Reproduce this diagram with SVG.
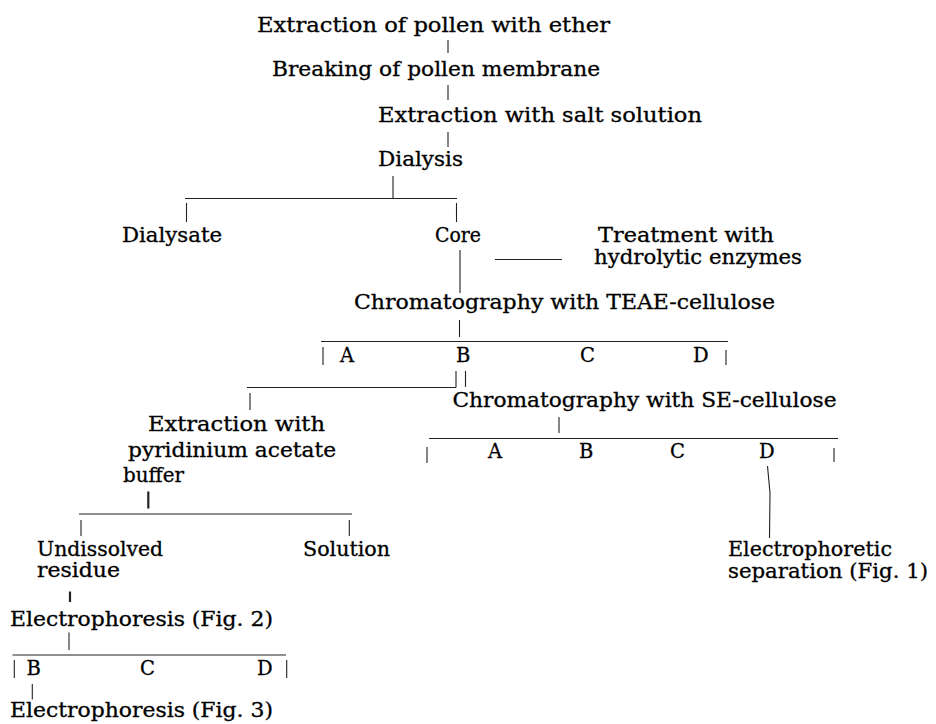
<svg xmlns="http://www.w3.org/2000/svg" width="936" height="724" viewBox="0 0 936 724">
<style>
.t{font-family:"DejaVu Serif","Liberation Serif",serif;font-size:19.5px;fill:#000;stroke:#000;stroke-width:0.3}
.c line,.c polyline{stroke:#222;stroke-width:1.1;fill:none}
.c .k{stroke-width:2.2}
</style>
<rect width="936" height="724" fill="#ffffff"/>
<g id="n1"><text class="t" x="257" y="32" textLength="353" lengthAdjust="spacingAndGlyphs">Extraction of pollen with ether</text></g>
<g id="n2"><text class="t" x="272" y="76" textLength="328" lengthAdjust="spacingAndGlyphs">Breaking of pollen membrane</text></g>
<g id="n3"><text class="t" x="378" y="121.5" textLength="324" lengthAdjust="spacingAndGlyphs">Extraction with salt solution</text></g>
<g id="n4"><text class="t" x="378" y="166" textLength="85" lengthAdjust="spacingAndGlyphs">Dialysis</text></g>
<g id="n5"><text class="t" x="122" y="242" textLength="100" lengthAdjust="spacingAndGlyphs">Dialysate</text></g>
<g id="n6"><text class="t" x="435" y="242" textLength="46" lengthAdjust="spacingAndGlyphs">Core</text></g>
<g id="n7"><text class="t" x="598" y="242" textLength="176" lengthAdjust="spacingAndGlyphs">Treatment with</text><text class="t" x="594" y="264" textLength="208" lengthAdjust="spacingAndGlyphs">hydrolytic enzymes</text></g>
<g id="n8"><text class="t" x="354" y="309" textLength="421" lengthAdjust="spacingAndGlyphs">Chromatography with TEAE-cellulose</text></g>
<g id="n9"><text class="t" x="340" y="362">A</text><text class="t" x="456" y="362">B</text><text class="t" x="580" y="362">C</text><text class="t" x="693" y="362">D</text></g>
<g id="n10"><text class="t" x="452.5" y="406.5" textLength="384" lengthAdjust="spacingAndGlyphs">Chromatography with SE-cellulose</text></g>
<g id="n11"><text class="t" x="488" y="458">A</text><text class="t" x="579" y="458">B</text><text class="t" x="670" y="458">C</text><text class="t" x="759" y="458">D</text></g>
<g id="n12"><text class="t" x="728" y="556" textLength="164" lengthAdjust="spacingAndGlyphs">Electrophoretic</text><text class="t" x="728" y="578" textLength="200" lengthAdjust="spacingAndGlyphs">separation (Fig. 1)</text></g>
<g id="n13"><text class="t" x="148" y="430.5" textLength="177" lengthAdjust="spacingAndGlyphs">Extraction with</text><text class="t" x="128" y="457" textLength="208" lengthAdjust="spacingAndGlyphs">pyridinium acetate</text><text class="t" x="123" y="481.5" textLength="61" lengthAdjust="spacingAndGlyphs">buffer</text></g>
<g id="n14"><text class="t" x="37" y="555.5" textLength="126" lengthAdjust="spacingAndGlyphs">Undissolved</text><text class="t" x="37" y="577" textLength="83" lengthAdjust="spacingAndGlyphs">residue</text></g>
<g id="n15"><text class="t" x="303" y="555.5" textLength="87" lengthAdjust="spacingAndGlyphs">Solution</text></g>
<g id="n16"><text class="t" x="10" y="625.5" textLength="263" lengthAdjust="spacingAndGlyphs">Electrophoresis (Fig. 2)</text></g>
<g id="n17"><text class="t" x="26.5" y="675">B</text><text class="t" x="140" y="675">C</text><text class="t" x="257" y="675">D</text></g>
<g id="n18"><text class="t" x="10" y="717" textLength="263" lengthAdjust="spacingAndGlyphs">Electrophoresis (Fig. 3)</text></g>
<g id="connectors" class="c">
<line x1="448" y1="40" x2="448" y2="53"/>
<line x1="448" y1="85" x2="448" y2="100"/>
<line x1="448" y1="132" x2="448" y2="147"/>
<line x1="393" y1="176" x2="393" y2="198.5"/>
<line x1="185" y1="198.5" x2="457" y2="198.5"/>
<line x1="186.5" y1="203" x2="186.5" y2="222"/>
<line x1="456.5" y1="203" x2="456.5" y2="222"/>
<line x1="460" y1="250" x2="460" y2="293"/>
<line x1="495" y1="259.5" x2="562" y2="259.5"/>
<line x1="459.5" y1="320" x2="459.5" y2="337"/>
<line x1="321" y1="341.5" x2="728" y2="341.5"/>
<line x1="323" y1="347" x2="323" y2="365"/>
<line x1="726" y1="350" x2="726" y2="365"/>
<line x1="456" y1="371" x2="456" y2="387.5"/>
<line x1="465.5" y1="371" x2="465.5" y2="387"/>
<line x1="247" y1="387.5" x2="456" y2="387.5"/>
<line x1="250" y1="393" x2="250" y2="410"/>
<line x1="559" y1="417" x2="559" y2="433"/>
<line x1="429" y1="438.5" x2="838" y2="438.5"/>
<line x1="427" y1="447" x2="427" y2="463"/>
<line x1="834" y1="448" x2="834" y2="462"/>
<polyline points="767.5,466 770,493 769.5,538"/>
<line class="k" x1="148.3" y1="491.5" x2="148.3" y2="508.5"/>
<line x1="79" y1="514" x2="352" y2="514"/>
<line x1="81" y1="520" x2="81" y2="536"/>
<line x1="349.3" y1="520" x2="349.3" y2="536"/>
<line class="k" x1="70" y1="591.5" x2="70" y2="602"/>
<line x1="69" y1="632.5" x2="69" y2="650"/>
<line x1="12.5" y1="655" x2="286" y2="655"/>
<line x1="14.3" y1="660" x2="14.3" y2="678"/>
<line x1="286.7" y1="660" x2="286.7" y2="678"/>
<line x1="32.3" y1="684" x2="32.3" y2="699.5"/>
</g>
</svg>
